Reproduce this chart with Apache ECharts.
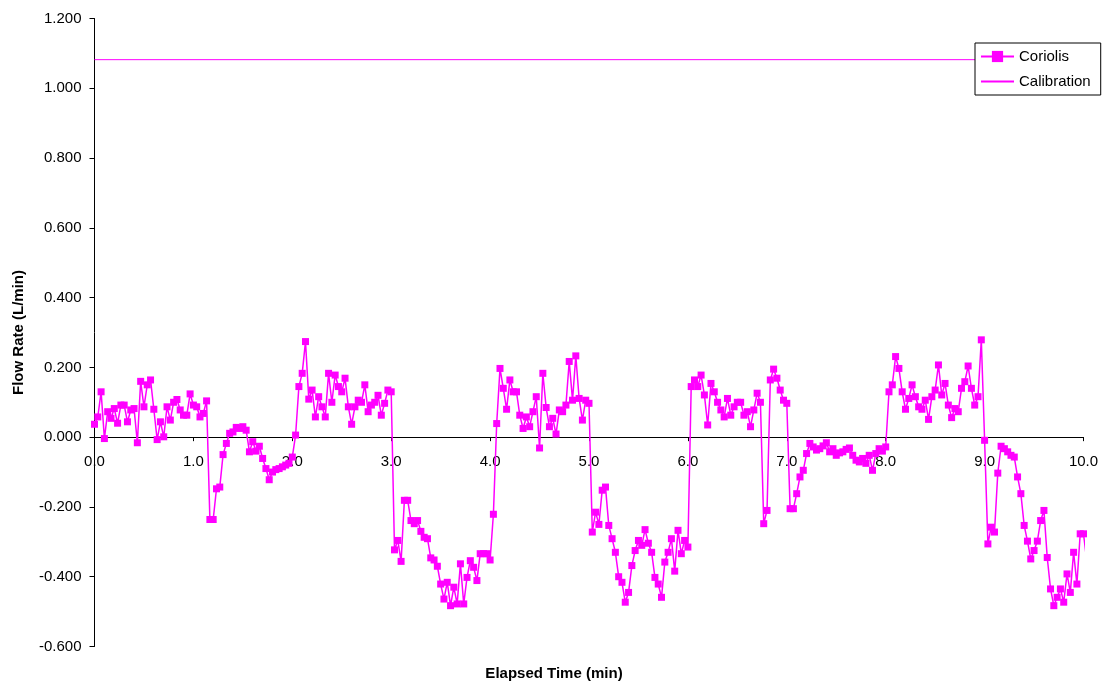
<!DOCTYPE html>
<html>
<head>
<meta charset="utf-8">
<title>Flow Rate</title>
<script src="https://cdn.jsdelivr.net/npm/echarts@6/dist/echarts.min.js"></script>
<style>
  html, body { margin: 0; padding: 0; background: #fff; }
  #chart { width: 1108px; height: 688px; }
</style>
</head>
<body>
<div id="chart"></div>
<script>
// sample step: one reading every 2 s (1/30 min)
const STEP = 1 / 30;

// Coriolis flow rate (L/min) in time order
const coriolis = [
  0.037, 0.058, 0.13, -0.004, 0.073, 0.054, 0.082, 0.04, 0.092, 0.092,
  0.044, 0.078, 0.082, -0.016, 0.16, 0.087, 0.15, 0.164, 0.08, -0.007,
  0.044, 0.001, 0.087, 0.049, 0.10, 0.108, 0.078, 0.063, 0.063, 0.124,
  0.092, 0.087, 0.058, 0.068, 0.104, -0.236, -0.236, -0.148, -0.143, -0.05,
  -0.018, 0.011, 0.015, 0.028, 0.025, 0.03, 0.02, -0.042, -0.013, -0.04,
  -0.026, -0.061, -0.09, -0.122, -0.1, -0.093, -0.09, -0.085, -0.08, -0.075,
  -0.057, 0.006, 0.145, 0.183, 0.274, 0.109, 0.135, 0.058, 0.116, 0.087,
  0.058, 0.183, 0.10, 0.178, 0.145, 0.13, 0.169, 0.087, 0.037, 0.087,
  0.106, 0.10, 0.15, 0.073, 0.092, 0.10, 0.12, 0.063, 0.097, 0.135,
  0.13, -0.323, -0.296, -0.356, -0.181, -0.181, -0.239, -0.248, -0.239, -0.27,
  -0.287, -0.291, -0.346, -0.352, -0.37, -0.421, -0.464, -0.416, -0.483, -0.43,
  -0.478, -0.363, -0.478, -0.402, -0.354, -0.373, -0.411, -0.334, -0.334, -0.334,
  -0.352, -0.221, 0.039, 0.197, 0.14, 0.08, 0.164, 0.13, 0.13, 0.063,
  0.025, 0.058, 0.03, 0.073, 0.116, -0.031, 0.183, 0.085, 0.03, 0.054,
  0.009, 0.078, 0.073, 0.092, 0.217, 0.106, 0.233, 0.111, 0.049, 0.106,
  0.097, -0.272, -0.215, -0.25, -0.152, -0.143, -0.253, -0.291, -0.33, -0.4,
  -0.416, -0.473, -0.445, -0.368, -0.325, -0.296, -0.31, -0.265, -0.304, -0.33,
  -0.402, -0.421, -0.459, -0.358, -0.33, -0.291, -0.384, -0.267, -0.334, -0.296,
  -0.315, 0.145, 0.164, 0.145, 0.178, 0.121, 0.035, 0.154, 0.13, 0.10,
  0.078, 0.058, 0.111, 0.063, 0.087, 0.10, 0.10, 0.063, 0.073, 0.03,
  0.078, 0.126, 0.10, -0.248, -0.21, 0.164, 0.195, 0.169, 0.135, 0.106,
  0.097, -0.205, -0.205, -0.162, -0.114, -0.095, -0.047, -0.018, -0.028, -0.037,
  -0.033, -0.025, -0.016, -0.042, -0.033, -0.052, -0.045, -0.042, -0.035, -0.031,
  -0.052, -0.066, -0.071, -0.061, -0.075, -0.052, -0.095, -0.047, -0.033, -0.04,
  -0.028, 0.13, 0.15, 0.231, 0.197, 0.13, 0.08, 0.111, 0.15, 0.116,
  0.087, 0.08, 0.106, 0.051, 0.116, 0.135, 0.207, 0.121, 0.154, 0.092,
  0.056, 0.082, 0.073, 0.14, 0.159, 0.204, 0.14, 0.092, 0.116, 0.279,
  -0.009, -0.306, -0.258, -0.272, -0.103, -0.026, -0.033, -0.042, -0.052, -0.057,
  -0.114, -0.162, -0.253, -0.298, -0.349, -0.325, -0.298, -0.239, -0.21, -0.345,
  -0.435, -0.483, -0.459, -0.435, -0.473, -0.392, -0.445, -0.33, -0.421, -0.277,
  -0.277, -0.354, 0.1
];
// readings after this index lie past 10.0 min: line only, no marker
const TAIL_FROM = 301;

// calibration reference (L/min), start and end of run
const calibTimes = [0, 10];
const calibration = [1.082, 1.082];

const yTicks = { min: -0.6, max: 1.2, step: 0.2 };
const xTicks = { min: 0, max: 10, step: 1 };

const MAGENTA = '#ff00ff';
const FONT = '"Liberation Sans", Arial, sans-serif';

// plot box in pixels
const GRID = { left: 94.5, right: 24.5, top: 18.5, bottom: 41.5 };
const plotH = 688 - GRID.top - GRID.bottom;
// the time axis sits on the zero line: shift it up from the bottom edge
const zeroShift = plotH * (0 - yTicks.min) / (yTicks.max - yTicks.min);

const coriolisData = coriolis.map(function (v, i) {
    const item = { value: [i * STEP, v] };
    if (i >= TAIL_FROM) item.symbol = 'none';
    return item;
});
const calibData = calibTimes.map(function (t, i) { return [t, calibration[i]]; });

const chart = echarts.init(document.getElementById('chart'), null, { renderer: 'canvas' });
chart.setOption({
    animation: false,
    backgroundColor: '#fff',
    textStyle: { fontFamily: FONT },
    grid: { left: GRID.left, right: GRID.right, top: GRID.top, bottom: GRID.bottom, containLabel: false },
    xAxis: {
        type: 'value',
        position: 'bottom',
        offset: -zeroShift,
        min: xTicks.min, max: xTicks.max, interval: xTicks.step,
        axisLine: { onZero: false, lineStyle: { color: '#000', width: 1 } },
        axisTick: { show: true, length: 4, lineStyle: { color: '#000' } },
        axisLabel: {
            color: '#000', fontSize: 15, margin: 17, fontFamily: FONT,
            formatter: function (v) { return v.toFixed(1); }
        },
        splitLine: { show: false }
    },
    yAxis: {
        type: 'value',
        min: yTicks.min, max: yTicks.max, interval: yTicks.step,
        name: 'Flow Rate (L/min)',
        nameLocation: 'middle',
        nameRotate: 90,
        nameGap: 68,
        nameTextStyle: { color: '#000', fontSize: 15, fontWeight: 'bold', fontFamily: FONT },
        axisLine: { show: true, onZero: false, lineStyle: { color: '#000', width: 1 } },
        axisTick: { show: true, length: 5, lineStyle: { color: '#000' } },
        axisLabel: {
            color: '#000', fontSize: 15, margin: 13, fontFamily: FONT,
            formatter: function (v) { return v.toFixed(3); }
        },
        splitLine: { show: false }
    },
    legend: {
        orient: 'vertical',
        left: 975, top: 43,
        backgroundColor: '#fff',
        borderColor: '#000', borderWidth: 1, borderRadius: 0,
        padding: [6, 10, 6, 5],
        itemWidth: 33, itemHeight: 14, itemGap: 10,
        textStyle: { color: '#000', fontSize: 15, fontFamily: FONT },
        data: [
            { name: 'Coriolis' },
            { name: 'Calibration', itemStyle: { opacity: 0 } }
        ]
    },
    graphic: [{
        type: 'text',
        left: 'center',
        top: 666,
        style: { text: 'Elapsed Time (min)', fill: '#000', font: 'bold 15px ' + FONT }
    }],
    series: [{
        name: 'Coriolis',
        type: 'line',
        data: coriolisData,
        clip: false,
        symbol: 'rect',
        symbolSize: 7,
        showAllSymbol: true,
        lineStyle: { color: MAGENTA, width: 1.5 },
        itemStyle: { color: MAGENTA },
        z: 3
    }, {
        name: 'Calibration',
        type: 'line',
        data: calibData,
        symbol: 'none',
        lineStyle: { color: MAGENTA, width: 1 },
        itemStyle: { color: MAGENTA },
        z: 2
    }]
});
</script>
</body>
</html>
